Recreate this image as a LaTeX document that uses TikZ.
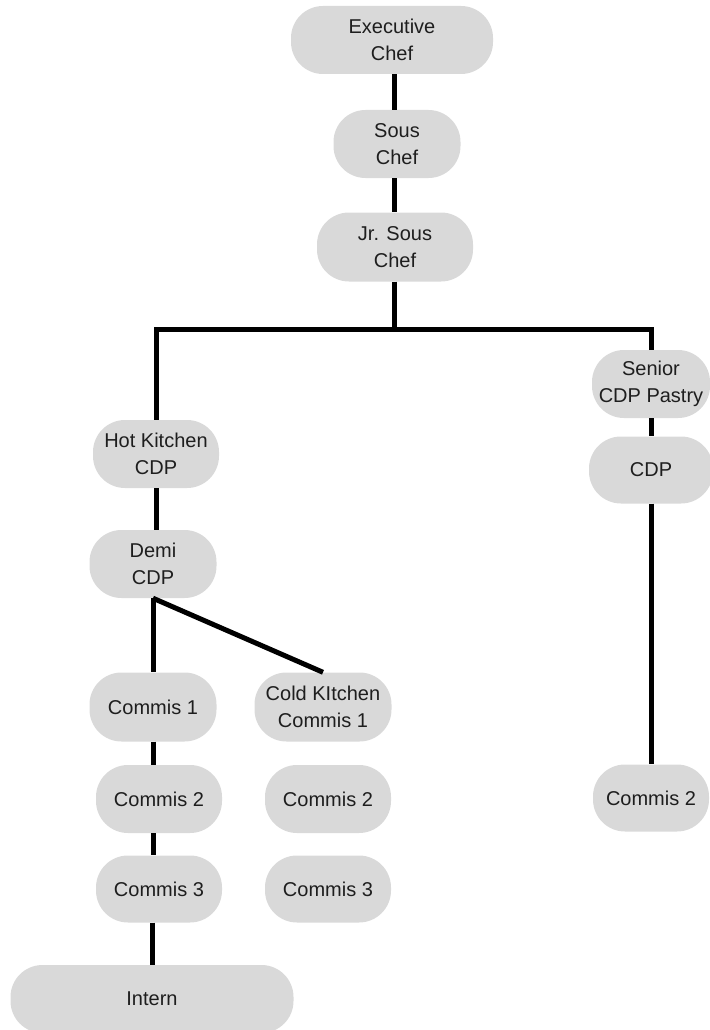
\documentclass[tikz,border=0pt]{standalone}
\usepackage{fontspec}
\setmainfont{Liberation Sans}
\definecolor{boxgray}{HTML}{D9D9D9}
\definecolor{textdark}{HTML}{1E1E1E}

\begin{document}
\begin{tikzpicture}[x=1pt,y=-1pt]
\tikzstyle{every node}+=[inner sep=0pt]
\tikzstyle{role}=[fill=boxgray, rounded corners=32pt, minimum height=68pt, align=center, text=textdark, font=\fontsize{20}{27}\selectfont]
\tikzstyle{link}=[black, line width=5pt]
\useasboundingbox (0,0) rectangle (709,1030);
\node [role, minimum width=202pt] (exec) at (392,40) {Executive\\Chef};
\node [role, minimum width=127pt] (sous) at (397,144) {Sous\\Chef};
\node [role, minimum width=156pt, minimum height=69pt] (jrsous) at (395,247) {Jr. Sous\\Chef};
\node [role, minimum width=126pt] (hot) at (156,454) {Hot Kitchen\\CDP};
\node [role, minimum width=127pt] (demi) at (153,564) {Demi\\CDP};
\node [role, minimum width=118pt] (senior) at (651,384) {Senior\\CDP Pastry};
\node [role, minimum width=124pt, minimum height=67pt] (cdp) at (651,470) {CDP};
\node [role, minimum width=127pt, minimum height=69pt] (commisa) at (153,707) {Commis 1};
\node [role, minimum width=137pt, minimum height=69pt] (cold) at (323,707) {Cold KItchen\\Commis 1};
\node [role, minimum width=126pt] (commisb) at (159,799) {Commis 2};
\node [role, minimum width=126pt] (coldb) at (328,799) {Commis 2};
\node [role, minimum width=126pt, minimum height=67pt] (commisc) at (159,889) {Commis 3};
\node [role, minimum width=126pt, minimum height=67pt] (coldc) at (328,889) {Commis 3};
\node [role, minimum width=116pt, minimum height=67pt] (pastryb) at (651,798) {Commis 2};
\node [role, minimum width=283pt] (intern) at (152,999) {Intern};
\coordinate (split) at (394,329);
\draw [link] (exec.south -| split) -- (sous.north -| split);
\draw [link] (sous.south -| split) -- (jrsous.north -| split);
\draw [link] (jrsous.south -| split) -- (split);
\draw [link] (hot.north) |- (split) -| (senior.north);
\draw [link] (hot.south) -- (hot.south |- demi.north);
\draw [link] (senior) -- (cdp);
\draw [link] (cdp.south) -- (pastryb.north);
\draw [link] (demi.south) -- (commisa.north);
\draw [link] (demi.south) -- (cold.north);
\draw [link] (commisa.south) -- (commisa.south |- commisb.north);
\draw [link] (commisb.south -| commisa.south) -- (commisc.north -| commisa.south);
\draw [link] (commisc.south -| intern.north) -- (intern.north);
\end{tikzpicture}
\end{document}
